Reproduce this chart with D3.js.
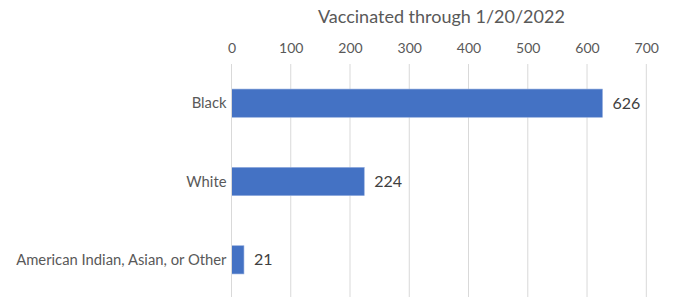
<!DOCTYPE html>
<html>
<head>
<meta charset="utf-8">
<script src="https://cdn.jsdelivr.net/npm/d3@7"></script>
<style>
  body { margin: 0; background: #fff; }
  text { font-family: Lato, "Open Sans", sans-serif; }
</style>
</head>
<body>
<svg id="chart" width="675" height="297"></svg>
<script>
var categories = ['Black', 'White', 'American Indian, Asian, or Other'];
var vaccinated = [626, 224, 21];
var tickValues = [0, 100, 200, 300, 400, 500, 600, 700];
var chartTitle = 'Vaccinated through 1/20/2022';

var svg = d3.select('#chart');
var plotLeft = 231.5, plotRight = 646.3, plotTop = 64, plotBottom = 299;

var x = d3.scaleLinear().domain([0, 700]).range([plotLeft, plotRight]);
var y = d3.scaleBand().domain(categories).range([plotTop, plotBottom]).paddingInner(0.64).paddingOuter(0.32);

// gridlines
svg.append('g').selectAll('line')
	.data(tickValues)
	.join('line')
	.attr('x1', function(d){ return x(d); })
	.attr('x2', function(d){ return x(d); })
	.attr('y1', plotTop)
	.attr('y2', 297)
	.attr('stroke', '#d9d9d9')
	.attr('stroke-width', 1);

// top axis labels
var axis = svg.append('g')
	.attr('transform', 'translate(0,' + 53 + ')')
	.call(d3.axisTop(x).tickValues(tickValues).tickSize(0).tickPadding(0));
axis.select('.domain').remove();
axis.selectAll('text')
	.attr('fill', '#595959')
	.style('font-size', '14px')
	.style('font-family', 'Lato, sans-serif');

// title
svg.append('text')
	.attr('x', (plotLeft + plotRight) / 2 + 2.5)
	.attr('y', 23)
	.attr('text-anchor', 'middle')
	.attr('fill', '#595959')
	.style('font-size', '18px')
	.text(chartTitle);

// bars
svg.append('g').selectAll('rect')
	.data(categories)
	.join('rect')
	.attr('x', x(0))
	.attr('y', function(d){ return y(d); })
	.attr('width', function(d, i){ return x(vaccinated[i]) - x(0); })
	.attr('height', y.bandwidth())
	.attr('fill', '#4472c4')
	.attr('stroke', '#8faadc')
	.attr('stroke-width', 0.6);

// baseline at 0
svg.append('line')
	.attr('x1', x(0)).attr('x2', x(0))
	.attr('y1', plotTop).attr('y2', 297)
	.attr('stroke', '#d9d9d9');

// category labels
svg.append('g').selectAll('text')
	.data(categories)
	.join('text')
	.attr('x', x(0) - 5)
	.attr('y', function(d){ return y(d) + y.bandwidth() / 2; })
	.attr('dy', '0.35em')
	.attr('text-anchor', 'end')
	.attr('fill', '#595959')
	.style('font-size', '14.8px')
	.text(function(d){ return d; });

// value labels
svg.append('g').selectAll('text')
	.data(vaccinated)
	.join('text')
	.attr('x', function(d){ return x(d) + 10; })
	.attr('y', function(d, i){ return y(categories[i]) + y.bandwidth() / 2; })
	.attr('dy', '0.35em')
	.attr('fill', '#404040')
	.style('font-size', '16px')
	.text(function(d){ return d; });
</script>
</body>
</html>
